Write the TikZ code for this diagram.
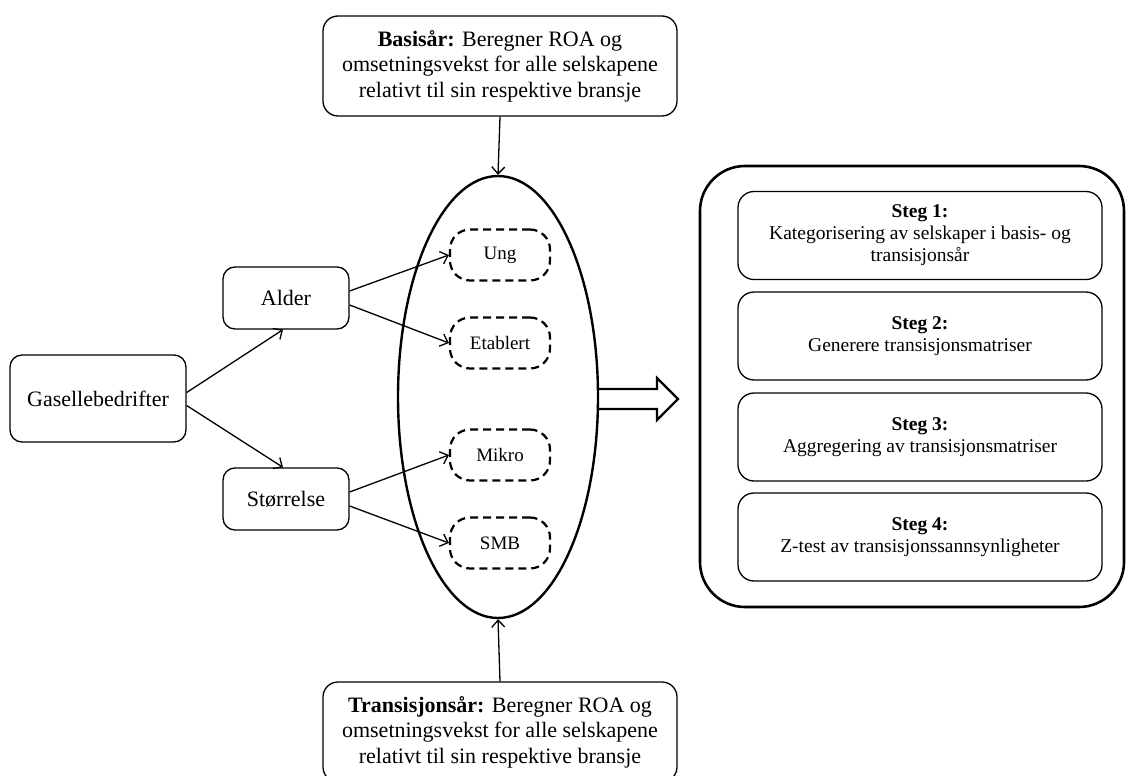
\documentclass[tikz,border=0pt]{standalone}
\usepackage{fontspec}
\setmainfont{Liberation Serif}
\usetikzlibrary{arrows.meta,shapes.geometric}
\begin{document}
\begin{tikzpicture}[x=1pt,y=-1pt,
  box/.style={draw,line width=1.3pt,rounded corners=12pt,align=center,inner sep=0pt},
  infobox/.style={box,rounded corners=15pt,minimum width=354pt,minimum height=100pt,font=\fontsize{22}{25.5}\selectfont},
  midbox/.style={box,minimum width=126pt,minimum height=62pt,font=\fontsize{22}{25}\selectfont},
  catbox/.style={draw,line width=2.2pt,dash pattern=on 8pt off 5pt,rounded corners=20pt,minimum width=100pt,minimum height=51pt,inner sep=0pt,font=\fontsize{19}{22}\selectfont},
  stegbox/.style={box,rounded corners=16pt,minimum width=364pt,minimum height=88pt,font=\fontsize{19.5}{22}\selectfont},
  arr/.style={line width=1.3pt,-{Straight Barb[length=7pt,width=13pt,line width=1.3pt]}}
]
\useasboundingbox (0,0) rectangle (1128,776);
% top and bottom info boxes
\node[infobox] (top) at (500,66) {\textbf{Basisår:} Beregner ROA og\\omsetningsvekst for alle selskapene\\relativt til sin respektive bransje};
\node[infobox] (bot) at (500,732) {\textbf{Transisjonsår:} Beregner ROA og\\omsetningsvekst for alle selskapene\\relativt til sin respektive bransje};
% ellipse
\node[ellipse,draw,line width=2.4pt,minimum width=200pt,minimum height=442pt,inner sep=0pt] (ell) at (498,397) {};
% left boxes
\node[box,minimum width=176pt,minimum height=87pt,font=\fontsize{22}{25}\selectfont] (gas) at (98,398.5) {Gasellebedrifter};
\node[midbox] (alder) at (286,298) {Alder};
\node[midbox] (storr) at (286,499) {Størrelse};
% categories
\node[catbox] (ung) at (500,255) {Ung};
\node[catbox] (etab) at (500,343) {Etablert};
\node[catbox] (mikro) at (500,455) {Mikro};
\node[catbox] (smb) at (500,543) {SMB};
% right panel
\node[draw,line width=2.6pt,rounded corners=45pt,minimum width=424pt,minimum height=441pt] (panel) at (912,386.5) {};
\node[stegbox] (s1) at (920,235.5) {\textbf{Steg 1:}\\Kategorisering av selskaper i basis- og\\transisjonsår};
\node[stegbox] (s2) at (920,336) {\textbf{Steg 2:}\\Generere transisjonsmatriser};
\node[stegbox] (s3) at (920,437) {\textbf{Steg 3:}\\Aggregering av transisjonsmatriser};
\node[stegbox] (s4) at (920,537) {\textbf{Steg 4:}\\Z-test av transisjonssannsynligheter};
% connectors
\draw[arr] (top.south) -- (ell.north);
\draw[arr] (bot.north) -- (ell.south);
\draw[arr] ([yshift=6pt]gas.east) -- ([xshift=-3pt]alder.south);
\draw[arr] ([yshift=-7pt]gas.east) -- ([xshift=-3pt]storr.north);
\draw[arr] ([yshift=7pt]alder.east) -- (ung.west);
\draw[arr] ([yshift=-7pt]alder.east) -- (etab.west);
\draw[arr] ([yshift=7pt]storr.east) -- (mikro.west);
\draw[arr] ([yshift=-7pt]storr.east) -- (smb.west);
% big hollow arrow
\draw[line width=2.4pt,line join=miter] (598,389) -- (657,389) -- (657,378) -- (678,399) -- (657,420) -- (657,409) -- (598,409);
\end{tikzpicture}
\end{document}
